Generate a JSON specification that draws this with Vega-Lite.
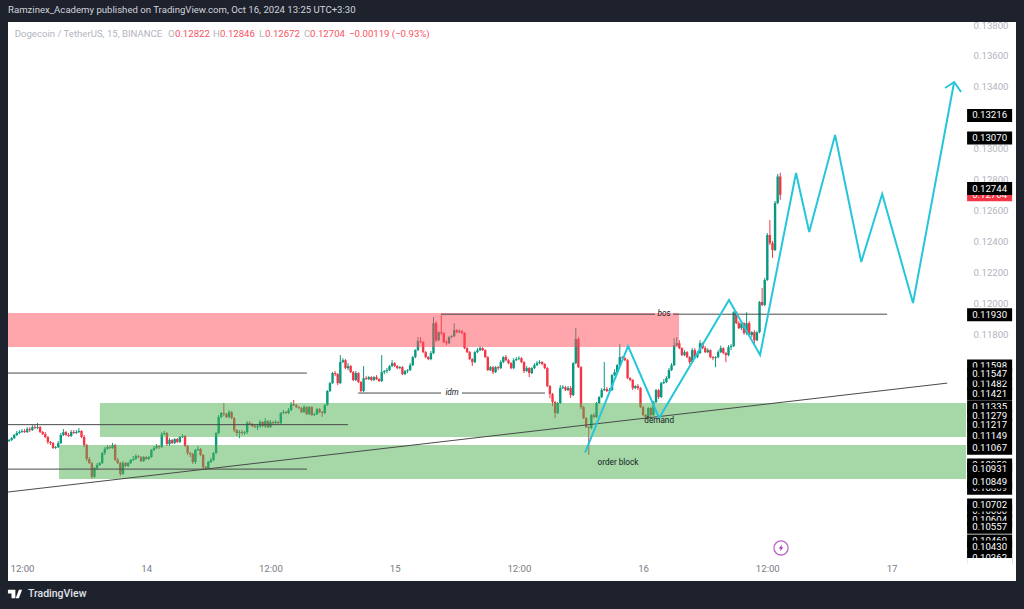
{"$schema":"https://vega.github.io/schema/vega-lite/v6.json","width":1008,"height":559,"autosize":{"type":"none"},"padding":{"left":8,"top":22,"right":8,"bottom":28},"background":"#1e222d","view":{"fill":"#ffffff","stroke":null},
"title":{"text":"Ramzinex_Academy published on TradingView.com, Oct 16, 2024 13:25 UTC+3:30","anchor":"start","frame":"group","offset":5,"font":"Roboto","fontSize":9.6,"fontWeight":"normal","color":"#d1d4dc"},
"datasets":{
"candles":[
{"t":-5,"o":0.11114,"h":0.11127,"l":0.11108,"c":0.11121},{"t":-4,"o":0.11121,"h":0.1114,"l":0.11114,"c":0.11133},{"t":-3,"o":0.11133,"h":0.11159,"l":0.11127,"c":0.11153},{"t":-2,"o":0.11153,"h":0.11179,"l":0.11146,"c":0.11166},{"t":-1,"o":0.11166,"h":0.11185,"l":0.11159,"c":0.11172},{"t":0,"o":0.11172,"h":0.11191,"l":0.11166,"c":0.11179},{"t":1,"o":0.11179,"h":0.11191,"l":0.11166,"c":0.11172},{"t":2,"o":0.11172,"h":0.11204,"l":0.11166,"c":0.11191},{"t":3,"o":0.11191,"h":0.11204,"l":0.11172,"c":0.11185},{"t":4,"o":0.11185,"h":0.11217,"l":0.11179,"c":0.11204},{"t":5,"o":0.11204,"h":0.11217,"l":0.11191,"c":0.11198},{"t":6,"o":0.11198,"h":0.1123,"l":0.11191,"c":0.11204},{"t":7,"o":0.11204,"h":0.11211,"l":0.11166,"c":0.11172},{"t":8,"o":0.11172,"h":0.11179,"l":0.11153,"c":0.11159},{"t":9,"o":0.11159,"h":0.11172,"l":0.11133,"c":0.1114},{"t":10,"o":0.1114,"h":0.11146,"l":0.11095,"c":0.11108},{"t":11,"o":0.11108,"h":0.11114,"l":0.11088,"c":0.11101},{"t":12,"o":0.11101,"h":0.11108,"l":0.11063,"c":0.11069},{"t":13,"o":0.11069,"h":0.11082,"l":0.11063,"c":0.11075},{"t":14,"o":0.11075,"h":0.11114,"l":0.11069,"c":0.11101},{"t":15,"o":0.11101,"h":0.11166,"l":0.11095,"c":0.11153},{"t":16,"o":0.11153,"h":0.11191,"l":0.11146,"c":0.11172},{"t":17,"o":0.11172,"h":0.11179,"l":0.11146,"c":0.11153},{"t":18,"o":0.11153,"h":0.11166,"l":0.1114,"c":0.11146},{"t":19,"o":0.11146,"h":0.11185,"l":0.1114,"c":0.11172},{"t":20,"o":0.11172,"h":0.11185,"l":0.11159,"c":0.11166},{"t":21,"o":0.11166,"h":0.11185,"l":0.11159,"c":0.11172},{"t":22,"o":0.11172,"h":0.11198,"l":0.11166,"c":0.11179},{"t":23,"o":0.11179,"h":0.11185,"l":0.11133,"c":0.1114},{"t":24,"o":0.1114,"h":0.11153,"l":0.11075,"c":0.11088},{"t":25,"o":0.11088,"h":0.11095,"l":0.10985,"c":0.10998},{"t":26,"o":0.10998,"h":0.11011,"l":0.10966,"c":0.10972},{"t":27,"o":0.10972,"h":0.10979,"l":0.1087,"c":0.10883},{"t":28,"o":0.10883,"h":0.10946,"l":0.10876,"c":0.1094},{"t":29,"o":0.1094,"h":0.10972,"l":0.10927,"c":0.10959},{"t":30,"o":0.10959,"h":0.10979,"l":0.10953,"c":0.10972},{"t":31,"o":0.10972,"h":0.11043,"l":0.10966,"c":0.11037},{"t":32,"o":0.11037,"h":0.11075,"l":0.11024,"c":0.11063},{"t":33,"o":0.11063,"h":0.11088,"l":0.11056,"c":0.11075},{"t":34,"o":0.11075,"h":0.11088,"l":0.11063,"c":0.11069},{"t":35,"o":0.11069,"h":0.11101,"l":0.11063,"c":0.11088},{"t":36,"o":0.11088,"h":0.11095,"l":0.10985,"c":0.10992},{"t":37,"o":0.10992,"h":0.11005,"l":0.10966,"c":0.10972},{"t":38,"o":0.10972,"h":0.10979,"l":0.10889,"c":0.10902},{"t":39,"o":0.10902,"h":0.10985,"l":0.10895,"c":0.10972},{"t":40,"o":0.10972,"h":0.10979,"l":0.10946,"c":0.10953},{"t":41,"o":0.10953,"h":0.10979,"l":0.10946,"c":0.10972},{"t":42,"o":0.10972,"h":0.10998,"l":0.10966,"c":0.10992},{"t":43,"o":0.10992,"h":0.11017,"l":0.10985,"c":0.10998},{"t":44,"o":0.10998,"h":0.1103,"l":0.10992,"c":0.11017},{"t":45,"o":0.11017,"h":0.11024,"l":0.11005,"c":0.11011},{"t":46,"o":0.11011,"h":0.11017,"l":0.10979,"c":0.10985},{"t":47,"o":0.10985,"h":0.11017,"l":0.10979,"c":0.11011},{"t":48,"o":0.11011,"h":0.11017,"l":0.10992,"c":0.10998},{"t":49,"o":0.10998,"h":0.11017,"l":0.10992,"c":0.11011},{"t":50,"o":0.11011,"h":0.11063,"l":0.11005,"c":0.11056},{"t":51,"o":0.11056,"h":0.11082,"l":0.1105,"c":0.11069},{"t":52,"o":0.11069,"h":0.11095,"l":0.11063,"c":0.11082},{"t":53,"o":0.11082,"h":0.11088,"l":0.11063,"c":0.11075},{"t":54,"o":0.11075,"h":0.11172,"l":0.11069,"c":0.11159},{"t":55,"o":0.11159,"h":0.11179,"l":0.11153,"c":0.11166},{"t":56,"o":0.11166,"h":0.11172,"l":0.11082,"c":0.11095},{"t":57,"o":0.11095,"h":0.11133,"l":0.11082,"c":0.11121},{"t":58,"o":0.11121,"h":0.11127,"l":0.11095,"c":0.11101},{"t":59,"o":0.11101,"h":0.11133,"l":0.11095,"c":0.11127},{"t":60,"o":0.11127,"h":0.11133,"l":0.11101,"c":0.11108},{"t":61,"o":0.11108,"h":0.11146,"l":0.11101,"c":0.1114},{"t":62,"o":0.1114,"h":0.11159,"l":0.11133,"c":0.11146},{"t":63,"o":0.11146,"h":0.11153,"l":0.11075,"c":0.11082},{"t":64,"o":0.11082,"h":0.11088,"l":0.11024,"c":0.11037},{"t":65,"o":0.11037,"h":0.11043,"l":0.11011,"c":0.1103},{"t":66,"o":0.1103,"h":0.11037,"l":0.10966,"c":0.10979},{"t":67,"o":0.10979,"h":0.11063,"l":0.10966,"c":0.11056},{"t":68,"o":0.11056,"h":0.11082,"l":0.1105,"c":0.11063},{"t":69,"o":0.11063,"h":0.11069,"l":0.11017,"c":0.11024},{"t":70,"o":0.11024,"h":0.1103,"l":0.10927,"c":0.10946},{"t":71,"o":0.10946,"h":0.10953,"l":0.10927,"c":0.1094},{"t":72,"o":0.1094,"h":0.10985,"l":0.10933,"c":0.10979},{"t":73,"o":0.10979,"h":0.11005,"l":0.10972,"c":0.10992},{"t":74,"o":0.10992,"h":0.11043,"l":0.10985,"c":0.11037},{"t":75,"o":0.11037,"h":0.11172,"l":0.1103,"c":0.11166},{"t":76,"o":0.11166,"h":0.11282,"l":0.11159,"c":0.11269},{"t":77,"o":0.11269,"h":0.11301,"l":0.11262,"c":0.11295},{"t":78,"o":0.11295,"h":0.11359,"l":0.11275,"c":0.11288},{"t":79,"o":0.11288,"h":0.11295,"l":0.11262,"c":0.11269},{"t":80,"o":0.11269,"h":0.11314,"l":0.11262,"c":0.11301},{"t":81,"o":0.11301,"h":0.11308,"l":0.11256,"c":0.11262},{"t":82,"o":0.11262,"h":0.11269,"l":0.11172,"c":0.11185},{"t":83,"o":0.11185,"h":0.11191,"l":0.11146,"c":0.11166},{"t":84,"o":0.11166,"h":0.11185,"l":0.11133,"c":0.11172},{"t":85,"o":0.11172,"h":0.11185,"l":0.11153,"c":0.11166},{"t":86,"o":0.11166,"h":0.11179,"l":0.11153,"c":0.11172},{"t":87,"o":0.11172,"h":0.11243,"l":0.11159,"c":0.1123},{"t":88,"o":0.1123,"h":0.11243,"l":0.11217,"c":0.11224},{"t":89,"o":0.11224,"h":0.1123,"l":0.11204,"c":0.11211},{"t":90,"o":0.11211,"h":0.11224,"l":0.11198,"c":0.11204},{"t":91,"o":0.11204,"h":0.11224,"l":0.11185,"c":0.11211},{"t":92,"o":0.11211,"h":0.1125,"l":0.11198,"c":0.11237},{"t":93,"o":0.11237,"h":0.11243,"l":0.11204,"c":0.11211},{"t":94,"o":0.11211,"h":0.11262,"l":0.11198,"c":0.11243},{"t":95,"o":0.11243,"h":0.1125,"l":0.11198,"c":0.11204},{"t":96,"o":0.11204,"h":0.1125,"l":0.11198,"c":0.11237},{"t":97,"o":0.11237,"h":0.11243,"l":0.11217,"c":0.1123},{"t":98,"o":0.1123,"h":0.1125,"l":0.11217,"c":0.11237},{"t":99,"o":0.11237,"h":0.11243,"l":0.11224,"c":0.1123},{"t":100,"o":0.1123,"h":0.11301,"l":0.11224,"c":0.11295},{"t":101,"o":0.11295,"h":0.11314,"l":0.11288,"c":0.11301},{"t":102,"o":0.11301,"h":0.11308,"l":0.11288,"c":0.11295},{"t":103,"o":0.11295,"h":0.11327,"l":0.11288,"c":0.11314},{"t":104,"o":0.11314,"h":0.11366,"l":0.11308,"c":0.11353},{"t":105,"o":0.11353,"h":0.11379,"l":0.1134,"c":0.11346},{"t":106,"o":0.11346,"h":0.11353,"l":0.11327,"c":0.11333},{"t":107,"o":0.11333,"h":0.1134,"l":0.1132,"c":0.11327},{"t":108,"o":0.11327,"h":0.11333,"l":0.11295,"c":0.11301},{"t":109,"o":0.11301,"h":0.11346,"l":0.11295,"c":0.11333},{"t":110,"o":0.11333,"h":0.1134,"l":0.11282,"c":0.11288},{"t":111,"o":0.11288,"h":0.1134,"l":0.11282,"c":0.11333},{"t":112,"o":0.11333,"h":0.1134,"l":0.11275,"c":0.11282},{"t":113,"o":0.11282,"h":0.11295,"l":0.11275,"c":0.11288},{"t":114,"o":0.11288,"h":0.11327,"l":0.11282,"c":0.1132},{"t":115,"o":0.1132,"h":0.11327,"l":0.11295,"c":0.11301},{"t":116,"o":0.11301,"h":0.11308,"l":0.1127,"c":0.11295},{"t":117,"o":0.11295,"h":0.11353,"l":0.11288,"c":0.11346},{"t":118,"o":0.11346,"h":0.11443,"l":0.1134,"c":0.11437},{"t":119,"o":0.11437,"h":0.11495,"l":0.1143,"c":0.11488},{"t":120,"o":0.11488,"h":0.1156,"l":0.11482,"c":0.11553},{"t":121,"o":0.11553,"h":0.11566,"l":0.11533,"c":0.11546},{"t":122,"o":0.11546,"h":0.11553,"l":0.11475,"c":0.11488},{"t":123,"o":0.11488,"h":0.11669,"l":0.11482,"c":0.11624},{"t":124,"o":0.11624,"h":0.11649,"l":0.11617,"c":0.11636},{"t":125,"o":0.11636,"h":0.11643,"l":0.11578,"c":0.11585},{"t":126,"o":0.11585,"h":0.11617,"l":0.11572,"c":0.11598},{"t":127,"o":0.11598,"h":0.11604,"l":0.11553,"c":0.11559},{"t":128,"o":0.11559,"h":0.11566,"l":0.11501,"c":0.11508},{"t":129,"o":0.11508,"h":0.11566,"l":0.11501,"c":0.11553},{"t":130,"o":0.11553,"h":0.11559,"l":0.11488,"c":0.11495},{"t":131,"o":0.11495,"h":0.11501,"l":0.1143,"c":0.11437},{"t":132,"o":0.11437,"h":0.11598,"l":0.1143,"c":0.1152},{"t":133,"o":0.1152,"h":0.11533,"l":0.11508,"c":0.11514},{"t":134,"o":0.11514,"h":0.11533,"l":0.11508,"c":0.11527},{"t":135,"o":0.11527,"h":0.11533,"l":0.11501,"c":0.11508},{"t":136,"o":0.11508,"h":0.11533,"l":0.11501,"c":0.11527},{"t":137,"o":0.11527,"h":0.1154,"l":0.11508,"c":0.11514},{"t":138,"o":0.11514,"h":0.1152,"l":0.11495,"c":0.11501},{"t":139,"o":0.11501,"h":0.11669,"l":0.11495,"c":0.11559},{"t":140,"o":0.11559,"h":0.11572,"l":0.11546,"c":0.11566},{"t":141,"o":0.11566,"h":0.11585,"l":0.11553,"c":0.11572},{"t":142,"o":0.11572,"h":0.11604,"l":0.11566,"c":0.11598},{"t":143,"o":0.11598,"h":0.11636,"l":0.11591,"c":0.11617},{"t":144,"o":0.11617,"h":0.11624,"l":0.11591,"c":0.11598},{"t":145,"o":0.11598,"h":0.11604,"l":0.11578,"c":0.11585},{"t":146,"o":0.11585,"h":0.11598,"l":0.11578,"c":0.11591},{"t":147,"o":0.11591,"h":0.11598,"l":0.1154,"c":0.11546},{"t":148,"o":0.11546,"h":0.11572,"l":0.1154,"c":0.11566},{"t":149,"o":0.11566,"h":0.11578,"l":0.11553,"c":0.11572},{"t":150,"o":0.11572,"h":0.11617,"l":0.11566,"c":0.11604},{"t":151,"o":0.11604,"h":0.11662,"l":0.11598,"c":0.11656},{"t":152,"o":0.11656,"h":0.11707,"l":0.11649,"c":0.11701},{"t":153,"o":0.11701,"h":0.11785,"l":0.11695,"c":0.11759},{"t":154,"o":0.11759,"h":0.11785,"l":0.11746,"c":0.11753},{"t":155,"o":0.11753,"h":0.11759,"l":0.11682,"c":0.11688},{"t":156,"o":0.11688,"h":0.11695,"l":0.11649,"c":0.11656},{"t":157,"o":0.11656,"h":0.11662,"l":0.11636,"c":0.11643},{"t":158,"o":0.11643,"h":0.11695,"l":0.11636,"c":0.11682},{"t":159,"o":0.11682,"h":0.11914,"l":0.11675,"c":0.11875},{"t":160,"o":0.11875,"h":0.11888,"l":0.11753,"c":0.11765},{"t":161,"o":0.11765,"h":0.11823,"l":0.11759,"c":0.11817},{"t":162,"o":0.11817,"h":0.11927,"l":0.11798,"c":0.11811},{"t":163,"o":0.11811,"h":0.11817,"l":0.11746,"c":0.11753},{"t":164,"o":0.11753,"h":0.11765,"l":0.11733,"c":0.11746},{"t":165,"o":0.11746,"h":0.11791,"l":0.1174,"c":0.11785},{"t":166,"o":0.11785,"h":0.11798,"l":0.11778,"c":0.11791},{"t":167,"o":0.11791,"h":0.11875,"l":0.11785,"c":0.1183},{"t":168,"o":0.1183,"h":0.11836,"l":0.1181,"c":0.11817},{"t":169,"o":0.11817,"h":0.11836,"l":0.1181,"c":0.11823},{"t":170,"o":0.11823,"h":0.1183,"l":0.11804,"c":0.11811},{"t":171,"o":0.11811,"h":0.11817,"l":0.11707,"c":0.11714},{"t":172,"o":0.11714,"h":0.1172,"l":0.11682,"c":0.11688},{"t":173,"o":0.11688,"h":0.11695,"l":0.11636,"c":0.11643},{"t":174,"o":0.11643,"h":0.11649,"l":0.11598,"c":0.11624},{"t":175,"o":0.11624,"h":0.11695,"l":0.11617,"c":0.11688},{"t":176,"o":0.11688,"h":0.11714,"l":0.11682,"c":0.11701},{"t":177,"o":0.11701,"h":0.11727,"l":0.11695,"c":0.11714},{"t":178,"o":0.11714,"h":0.1172,"l":0.11695,"c":0.11701},{"t":179,"o":0.11701,"h":0.11707,"l":0.1165,"c":0.11656},{"t":180,"o":0.11656,"h":0.11662,"l":0.11566,"c":0.11572},{"t":181,"o":0.11572,"h":0.11598,"l":0.11566,"c":0.11591},{"t":182,"o":0.11591,"h":0.11598,"l":0.11546,"c":0.11559},{"t":183,"o":0.11559,"h":0.11598,"l":0.11553,"c":0.11591},{"t":184,"o":0.11591,"h":0.11598,"l":0.11572,"c":0.11585},{"t":185,"o":0.11585,"h":0.11636,"l":0.11578,"c":0.11624},{"t":186,"o":0.11624,"h":0.11662,"l":0.11617,"c":0.11656},{"t":187,"o":0.11656,"h":0.11669,"l":0.1163,"c":0.11636},{"t":188,"o":0.11636,"h":0.11643,"l":0.1161,"c":0.11617},{"t":189,"o":0.11617,"h":0.11624,"l":0.11578,"c":0.11585},{"t":190,"o":0.11585,"h":0.11649,"l":0.11578,"c":0.11636},{"t":191,"o":0.11636,"h":0.11656,"l":0.1163,"c":0.11643},{"t":192,"o":0.11643,"h":0.11662,"l":0.11636,"c":0.11649},{"t":193,"o":0.11649,"h":0.11656,"l":0.11617,"c":0.11624},{"t":194,"o":0.11624,"h":0.1163,"l":0.11553,"c":0.11566},{"t":195,"o":0.11566,"h":0.11598,"l":0.1156,"c":0.11585},{"t":196,"o":0.11585,"h":0.11591,"l":0.11527,"c":0.11553},{"t":197,"o":0.11553,"h":0.11591,"l":0.11546,"c":0.11585},{"t":198,"o":0.11585,"h":0.11617,"l":0.11578,"c":0.11604},{"t":199,"o":0.11604,"h":0.1163,"l":0.11598,"c":0.11617},{"t":200,"o":0.11617,"h":0.11636,"l":0.1161,"c":0.11624},{"t":201,"o":0.11624,"h":0.1163,"l":0.11604,"c":0.11611},{"t":202,"o":0.11611,"h":0.11617,"l":0.11578,"c":0.11585},{"t":203,"o":0.11585,"h":0.11591,"l":0.11462,"c":0.11469},{"t":204,"o":0.11469,"h":0.11475,"l":0.1139,"c":0.11417},{"t":205,"o":0.11417,"h":0.11424,"l":0.1134,"c":0.11366},{"t":206,"o":0.11366,"h":0.11372,"l":0.11262,"c":0.11295},{"t":207,"o":0.11295,"h":0.11366,"l":0.11288,"c":0.11359},{"t":208,"o":0.11359,"h":0.11475,"l":0.11353,"c":0.11456},{"t":209,"o":0.11456,"h":0.11475,"l":0.1145,"c":0.11462},{"t":210,"o":0.11462,"h":0.11469,"l":0.11437,"c":0.11443},{"t":211,"o":0.11443,"h":0.11469,"l":0.11437,"c":0.11456},{"t":212,"o":0.11456,"h":0.11469,"l":0.11392,"c":0.11411},{"t":213,"o":0.11411,"h":0.11624,"l":0.11404,"c":0.11617},{"t":214,"o":0.11617,"h":0.11843,"l":0.1161,"c":0.11772},{"t":215,"o":0.11772,"h":0.11785,"l":0.11585,"c":0.11591},{"t":216,"o":0.11591,"h":0.11598,"l":0.1132,"c":0.11333},{"t":217,"o":0.11333,"h":0.1134,"l":0.11256,"c":0.11262},{"t":218,"o":0.11262,"h":0.11269,"l":0.11198,"c":0.11204},{"t":219,"o":0.11204,"h":0.11211,"l":0.11024,"c":0.11198},{"t":220,"o":0.11198,"h":0.11288,"l":0.11191,"c":0.11282},{"t":221,"o":0.11282,"h":0.11295,"l":0.11262,"c":0.11269},{"t":222,"o":0.11269,"h":0.11366,"l":0.11262,"c":0.11359},{"t":223,"o":0.11359,"h":0.11404,"l":0.11353,"c":0.11398},{"t":224,"o":0.11398,"h":0.11456,"l":0.11392,"c":0.11443},{"t":225,"o":0.11443,"h":0.11624,"l":0.11437,"c":0.1145},{"t":226,"o":0.1145,"h":0.11462,"l":0.1143,"c":0.11437},{"t":227,"o":0.11437,"h":0.11456,"l":0.1143,"c":0.11443},{"t":228,"o":0.11443,"h":0.11546,"l":0.11437,"c":0.1154},{"t":229,"o":0.1154,"h":0.11578,"l":0.11533,"c":0.11559},{"t":230,"o":0.11559,"h":0.11611,"l":0.11553,"c":0.11604},{"t":231,"o":0.11604,"h":0.1174,"l":0.11598,"c":0.11656},{"t":232,"o":0.11656,"h":0.11662,"l":0.11643,"c":0.11649},{"t":233,"o":0.11649,"h":0.11656,"l":0.1163,"c":0.11636},{"t":234,"o":0.11636,"h":0.11643,"l":0.11514,"c":0.1152},{"t":235,"o":0.1152,"h":0.11527,"l":0.11501,"c":0.11508},{"t":236,"o":0.11508,"h":0.11514,"l":0.11443,"c":0.11456},{"t":237,"o":0.11456,"h":0.11475,"l":0.1145,"c":0.11469},{"t":238,"o":0.11469,"h":0.11482,"l":0.11443,"c":0.11456},{"t":239,"o":0.11456,"h":0.11462,"l":0.11327,"c":0.11333},{"t":240,"o":0.11333,"h":0.1134,"l":0.11275,"c":0.11282},{"t":241,"o":0.11282,"h":0.11288,"l":0.11256,"c":0.11269},{"t":242,"o":0.11269,"h":0.11333,"l":0.11262,"c":0.11327},{"t":243,"o":0.11327,"h":0.11333,"l":0.11262,"c":0.11282},{"t":244,"o":0.11282,"h":0.11372,"l":0.11275,"c":0.11366},{"t":245,"o":0.11366,"h":0.1145,"l":0.11359,"c":0.11443},{"t":246,"o":0.11443,"h":0.1145,"l":0.11385,"c":0.11398},{"t":247,"o":0.11398,"h":0.11495,"l":0.11392,"c":0.11488},{"t":248,"o":0.11488,"h":0.11514,"l":0.11482,"c":0.11495},{"t":249,"o":0.11495,"h":0.11533,"l":0.11488,"c":0.1152},{"t":250,"o":0.1152,"h":0.11585,"l":0.11514,"c":0.11572},{"t":251,"o":0.11572,"h":0.11617,"l":0.11566,"c":0.11604},{"t":252,"o":0.11604,"h":0.11778,"l":0.11598,"c":0.11733},{"t":253,"o":0.11733,"h":0.11785,"l":0.11727,"c":0.11746},{"t":254,"o":0.11746,"h":0.11765,"l":0.11707,"c":0.11714},{"t":255,"o":0.11714,"h":0.1172,"l":0.11662,"c":0.11669},{"t":256,"o":0.11669,"h":0.11701,"l":0.11662,"c":0.11688},{"t":257,"o":0.11688,"h":0.11695,"l":0.11649,"c":0.11656},{"t":258,"o":0.11656,"h":0.11662,"l":0.11611,"c":0.11624},{"t":259,"o":0.11624,"h":0.11714,"l":0.11617,"c":0.11701},{"t":260,"o":0.11701,"h":0.11714,"l":0.11649,"c":0.11656},{"t":261,"o":0.11656,"h":0.11695,"l":0.11649,"c":0.11682},{"t":262,"o":0.11682,"h":0.11765,"l":0.11675,"c":0.11746},{"t":263,"o":0.11746,"h":0.11753,"l":0.11707,"c":0.11714},{"t":264,"o":0.11714,"h":0.11727,"l":0.11682,"c":0.11688},{"t":265,"o":0.11688,"h":0.11714,"l":0.11682,"c":0.11701},{"t":266,"o":0.11701,"h":0.11707,"l":0.11649,"c":0.11656},{"t":267,"o":0.11656,"h":0.11662,"l":0.11636,"c":0.11649},{"t":268,"o":0.11649,"h":0.11662,"l":0.11591,"c":0.11656},{"t":269,"o":0.11656,"h":0.11701,"l":0.11649,"c":0.11688},{"t":270,"o":0.11688,"h":0.1173,"l":0.11682,"c":0.11714},{"t":271,"o":0.11714,"h":0.1172,"l":0.11675,"c":0.11682},{"t":272,"o":0.11682,"h":0.11688,"l":0.11624,"c":0.11669},{"t":273,"o":0.11669,"h":0.11733,"l":0.11662,"c":0.1172},{"t":274,"o":0.1172,"h":0.1174,"l":0.11701,"c":0.11727},{"t":275,"o":0.11727,"h":0.11952,"l":0.1172,"c":0.11946},{"t":276,"o":0.11946,"h":0.11952,"l":0.11869,"c":0.11875},{"t":277,"o":0.11875,"h":0.11888,"l":0.11836,"c":0.11843},{"t":278,"o":0.11843,"h":0.11881,"l":0.1183,"c":0.11875},{"t":279,"o":0.11875,"h":0.11881,"l":0.118,"c":0.11811},{"t":280,"o":0.11811,"h":0.11946,"l":0.11798,"c":0.11875},{"t":281,"o":0.11875,"h":0.11888,"l":0.11791,"c":0.11798},{"t":282,"o":0.11798,"h":0.11823,"l":0.11785,"c":0.11817},{"t":283,"o":0.11817,"h":0.1183,"l":0.1174,"c":0.11765},{"t":284,"o":0.11765,"h":0.11823,"l":0.11759,"c":0.11817},{"t":285,"o":0.11817,"h":0.12018,"l":0.1181,"c":0.12012},{"t":286,"o":0.12012,"h":0.12102,"l":0.11985,"c":0.11992},{"t":287,"o":0.11992,"h":0.12167,"l":0.11985,"c":0.12154},{"t":288,"o":0.12154,"h":0.12457,"l":0.12148,"c":0.12444},{"t":289,"o":0.12444,"h":0.12541,"l":0.12379,"c":0.12392},{"t":290,"o":0.12392,"h":0.12405,"l":0.12296,"c":0.12347},{"t":291,"o":0.12347,"h":0.12664,"l":0.1234,"c":0.12651},{"t":292,"o":0.12651,"h":0.12838,"l":0.12644,"c":0.12822},{"t":293,"o":0.12822,"h":0.12846,"l":0.12672,"c":0.12704}
],
"zones":[{"kind":"supply","t0":-5.41,"t1":253.9,"p0":0.119407,"p1":0.117213},{"kind":"demand","t0":30.1,"t1":364.8,"p0":0.113597,"p1":0.111402},{"kind":"demand","t0":14.3,"t1":364.8,"p0":0.110886,"p1":0.108691}],
"lines":[
{"s":"a","t":-5.41,"p":0.11553},{"s":"a","t":110.1,"p":0.11553},
{"s":"b","t":-5.41,"p":0.1122},{"s":"b","t":126,"p":0.1122},
{"s":"c","t":-5.41,"p":0.10933},{"s":"c","t":110.1,"p":0.10933},
{"s":"idm1","t":129.9,"p":0.11424},{"s":"idm1","t":161.9,"p":0.11424},
{"s":"idm2","t":170,"p":0.11424},{"s":"idm2","t":202.1,"p":0.11424},
{"s":"bos1","t":161.9,"p":0.11933},{"s":"bos1","t":244.6,"p":0.11933},
{"s":"bos2","t":251.6,"p":0.11933},{"s":"bos2","t":334.3,"p":0.11933},
{"s":"trend","t":-5.41,"p":0.10785},{"s":"trend","t":357.5,"p":0.11488}],
"path":[
{"s":"wave","n":0,"t":217.6,"p":0.11039},{"s":"wave","n":1,"t":234.2,"p":0.117277},{"s":"wave","n":2,"t":246.2,"p":0.112629},{"s":"wave","n":3,"t":273.2,"p":0.120247},{"s":"wave","n":4,"t":285.2,"p":0.116696},{"s":"wave","n":5,"t":299.1,"p":0.128445},{"s":"wave","n":6,"t":304.2,"p":0.124637},{"s":"wave","n":7,"t":314.2,"p":0.130899},{"s":"wave","n":8,"t":324.3,"p":0.1227},{"s":"wave","n":9,"t":332.4,"p":0.12709},{"s":"wave","n":10,"t":344.3,"p":0.120053},{"s":"wave","n":11,"t":360.2,"p":0.13432},
{"s":"head","n":0,"t":356.7,"p":0.133933},{"s":"head","n":1,"t":360.2,"p":0.13432},{"s":"head","n":2,"t":362.9,"p":0.133675}],
"tagback":[{"label":"0.12704","p":0.12704},{"label":"0.11598","p":0.11598},{"label":"0.11482","p":0.11482},{"label":"0.11335","p":0.11335},{"label":"0.10959","p":0.10959},{"label":"0.10809","p":0.10809},{"label":"0.10660","p":0.1066},{"label":"0.10604","p":0.10604},{"label":"0.10469","p":0.10469}],
"tagfront":[{"label":"0.13216","p":0.13216},{"label":"0.13070","p":0.1307},{"label":"0.12744","p":0.12744},{"label":"0.11930","p":0.1193},{"label":"0.11547","p":0.11547},{"label":"0.11421","p":0.11421},{"label":"0.11279","p":0.11279},{"label":"0.11217","p":0.11217},{"label":"0.11149","p":0.11149},{"label":"0.11067","p":0.11067},{"label":"0.10931","p":0.10931},{"label":"0.10849","p":0.10849},{"label":"0.10702","p":0.10702},{"label":"0.10557","p":0.10557},{"label":"0.10430","p":0.1043},{"label":"0.10362","p":0.10362}],
"italicnotes":[{"text":"idm","t":166.2,"p":0.11424},{"text":"bos","t":248.1,"p":0.11933}],
"notes":[{"text":"demand","t":246.2,"p":0.1125},{"text":"order block","t":230.3,"p":0.10979}],
"headline":[{"text":"Dogecoin / TetherUS, 15, BINANCE","t":-2.82,"p":0.13742,"kind":"muted"},{"text":"O","t":56.4,"p":0.13742,"kind":"muted"},{"text":"0.12822","t":59.1,"p":0.13742,"kind":"down"},{"text":"H","t":73.8,"p":0.13742,"kind":"muted"},{"text":"0.12846","t":76.5,"p":0.13742,"kind":"down"},{"text":"L","t":91.6,"p":0.13742,"kind":"muted"},{"text":"0.12672","t":93.9,"p":0.13742,"kind":"down"},{"text":"C","t":109,"p":0.13742,"kind":"muted"},{"text":"0.12704","t":111.3,"p":0.13742,"kind":"down"},{"text":"−0.00119 (−0.93%)","t":126.4,"p":0.13742,"kind":"down"}]
},
"encoding":{"x":{"field":"t","type":"quantitative","scale":{"domain":[-5.41,384.1],"nice":false,"zero":false,"padding":0},
"axis":{"title":null,"orient":"bottom","domain":false,"ticks":false,"grid":false,"values":[0,48,96,144,192,240,288,336],"labelExpr":"datum.value==48?'14':datum.value==144?'15':datum.value==240?'16':datum.value==336?'17':'12:00'","labelPadding":-18,"labelFont":"Roboto","labelFontSize":9.6,"labelColor":"#787b86"}},
"y":{"field":"p","type":"quantitative","scale":{"domain":[0.102106,0.138194],"nice":false,"zero":false},
"axis":{"title":null,"orient":"right","domain":false,"ticks":false,"grid":false,"values":[0.118,0.12,0.122,0.124,0.126,0.128,0.13,0.132,0.134,0.136,0.138],"format":".5f","labelAlign":"right","labelPadding":-8,"labelFont":"Roboto","labelFontSize":9.6,"labelColor":"#b2b5be"}}},
"layer":[
{"data":{"name":"candles"},"mark":{"type":"rule","strokeWidth":1},"encoding":{"y":{"field":"l","type":"quantitative"},"y2":{"field":"h"},"color":{"condition":{"test":"datum.c>=datum.o","value":"#089981"},"value":"#f23645"}}},
{"data":{"name":"candles"},"mark":{"type":"bar","size":2.4},"encoding":{"y":{"field":"o","type":"quantitative"},"y2":{"field":"c"},"color":{"condition":{"test":"datum.c>=datum.o","value":"#089981"},"value":"#f23645"}}},
{"data":{"name":"zones"},"mark":{"type":"rect","opacity":0.5},"encoding":{"x":{"field":"t0","type":"quantitative"},"x2":{"field":"t1"},"y":{"field":"p0","type":"quantitative"},"y2":{"field":"p1"},"color":{"field":"kind","type":"nominal","legend":null,"scale":{"domain":["supply","demand","muted","down"],"range":["#ff4d59","#4caf50","#b2b5be","#f7525f"]}}}},
{"data":{"name":"lines"},"mark":{"type":"line","color":"#4a4a4a","strokeWidth":1},"encoding":{"detail":{"field":"s"}}},
{"data":{"name":"path"},"mark":{"type":"line","color":"#26c6da","strokeWidth":2},"encoding":{"detail":{"field":"s"},"order":{"field":"n"}}},
{"data":{"name":"notes"},"mark":{"type":"text","font":"Roboto","fontSize":8.2,"dy":1,"color":"#131722"},"encoding":{"text":{"field":"text"}}},
{"data":{"name":"italicnotes"},"mark":{"type":"text","font":"Roboto","fontSize":8.2,"fontStyle":"italic","color":"#131722"},"encoding":{"text":{"field":"text"}}},
{"data":{"name":"headline"},"mark":{"type":"text","font":"Roboto","fontSize":9.6,"align":"left"},"encoding":{"text":{"field":"text"},"color":{"field":"kind","type":"nominal","legend":null,"scale":{"domain":["supply","demand","muted","down"],"range":["#ff4d59","#4caf50","#b2b5be","#f7525f"]}}}},
{"data":{"name":"tagback"},"transform":[{"calculate":"365.2","as":"t"},{"calculate":"382.6","as":"te"}],"mark":{"type":"rule","strokeWidth":13},"encoding":{"x2":{"field":"te"},"color":{"condition":{"test":"datum.label=='0.12704'","value":"#f23645"},"value":"#000000"}}},
{"data":{"name":"tagback"},"transform":[{"calculate":"373.9","as":"t"}],"mark":{"type":"text","font":"Roboto","fontSize":9.6,"color":"#ffffff"},"encoding":{"text":{"field":"label"}}},
{"data":{"name":"tagfront"},"transform":[{"calculate":"365.2","as":"t"},{"calculate":"382.6","as":"te"}],"mark":{"type":"rule","strokeWidth":13,"color":"#000000"},"encoding":{"x2":{"field":"te"}}},
{"data":{"name":"tagfront"},"transform":[{"calculate":"373.9","as":"t"}],"mark":{"type":"text","font":"Roboto","fontSize":9.6,"color":"#ffffff"},"encoding":{"text":{"field":"label"}}},
{"data":{"values":[{"p":0.1032}]},"transform":[{"calculate":"365.2","as":"t"},{"calculate":"382.6","as":"te"}],"mark":{"type":"rule","strokeWidth":12,"color":"#ffffff"},"encoding":{"x2":{"field":"te"}}},
{"data":{"values":[{"t":293.3,"p":0.10424}]},"mark":{"type":"point","filled":false,"shape":"circle","size":200,"stroke":"#9c27b0","strokeWidth":1.3}},
{"data":{"values":[{"t":293.3,"p":0.10424}]},"mark":{"type":"point","filled":true,"opacity":1,"color":"#9c27b0","size":50,"shape":"M0.3 -1 L-0.6 0.15 L-0.05 0.15 L-0.3 1 L0.6 -0.2 L0.05 -0.2 Z"}},
{"data":{"values":[{"t":-2.7,"p":0.10127}]},"mark":{"type":"point","filled":true,"opacity":1,"color":"#ffffff","size":200,"shape":"M-1 -0.6 H0.05 V0.6 H-0.5 V-0.05 H-1 Z M0.1 0.6 L0.55 -0.6 H1 L0.55 0.6 Z"}},
{"data":{"values":[{"t":2.3,"p":0.10127,"text":"TradingView"}]},"mark":{"type":"text","font":"Roboto","fontSize":10.5,"fontWeight":500,"align":"left","color":"#e0e3eb"},"encoding":{"text":{"field":"text"}}}
]}
